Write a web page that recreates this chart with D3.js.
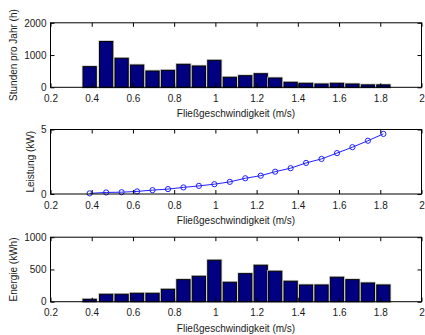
<!DOCTYPE html>
<html>
<head>
<meta charset="utf-8">
<script src="https://cdn.jsdelivr.net/npm/d3@7"></script>
<style>
  body { margin: 0; background: #fff; }
  svg { display: block; font-family: "Liberation Sans", Arial, sans-serif; }
  .tick text { font-size: 10px; fill: #1a1a1a; }
  .label { font-size: 10px; fill: #1a1a1a; }
</style>
</head>
<body>
<div id="chart"></div>
<script>
// bin centres (m/s)
const speeds = [0.39, 0.47, 0.545, 0.62, 0.695, 0.77, 0.845, 0.92, 0.995, 1.07,
  1.145, 1.22, 1.29, 1.365, 1.44, 1.515, 1.59, 1.665, 1.74, 1.815];
// hours per year in each bin
const hours = [640, 1420, 900, 690, 505, 525, 712, 660, 836, 310,
  360, 421, 288, 155, 124, 102, 124, 102, 75, 75];
// power (kW)
const power = [0.05, 0.12, 0.14, 0.2, 0.3, 0.38, 0.51, 0.63, 0.76, 0.94,
  1.22, 1.42, 1.73, 2.0, 2.41, 2.72, 3.17, 3.63, 4.13, 4.66];
// energy (kWh)
const energy = [37, 115, 115, 130, 130, 192, 342, 394, 643, 301,
  435, 565, 472, 317, 259, 259, 379, 342, 290, 259];

const xTicks = [0.2, 0.4, 0.6, 0.8, 1, 1.2, 1.4, 1.6, 1.8, 2];
const xLabel = "Fließgeschwindigkeit (m/s)";

const width = 425, height = 335;
const left = 50.5, right = 421.5;
const panelH = 64.5;

const panels = [
  { top: 22.8, type: "bar", values: hours, domain: [0, 2000], ticks: [0, 1000, 2000], ylabel: "Stunden pro Jahr (h)" },
  { top: 129.5, type: "line", values: power, domain: [0, 5], ticks: [0, 5], ylabel: "Leistung (kW)" },
  { top: 237.2, type: "bar", values: energy, domain: [0, 1000], ticks: [0, 500, 1000], ylabel: "Energie (kWh)" },
];

const svg = d3.select("#chart").append("svg")
  .attr("width", width)
  .attr("height", height);

const x = d3.scaleLinear().domain([0.2, 2]).range([left, right]);
const step = x(speeds[1]) - x(speeds[0]);
const barW = step * 0.8;

panels.forEach((p) => {
  const y = d3.scaleLinear().domain(p.domain).range([p.top + panelH, p.top]);
  const g = svg.append("g");

  if (p.type === "bar") {
    const bars = g.selectAll(".bar").data(speeds).join("g").attr("class", "bar");
    // soft grey halo like the original rendering
    bars.append("rect")
      .attr("x", (d) => x(d) - barW / 2)
      .attr("y", (d, i) => y(p.values[i]))
      .attr("width", barW)
      .attr("height", (d, i) => y(0) - y(p.values[i]))
      .attr("fill", "none")
      .attr("stroke", "#c8c8c8")
      .attr("stroke-width", 2.6);
    bars.append("rect")
      .attr("x", (d) => x(d) - barW / 2)
      .attr("y", (d, i) => y(p.values[i]))
      .attr("width", barW)
      .attr("height", (d, i) => y(0) - y(p.values[i]))
      .attr("fill", "#000080")
      .attr("stroke", "#000")
      .attr("stroke-width", 1);
  } else {
    const line = d3.line()
      .x((d) => x(d))
      .y((d, i) => y(p.values[i]));
    g.append("path")
      .datum(speeds)
      .attr("d", line)
      .attr("fill", "none")
      .attr("stroke", "#2020ff")
      .attr("stroke-width", 1);
    g.selectAll("circle").data(speeds).join("circle")
      .attr("cx", (d) => x(d))
      .attr("cy", (d, i) => y(p.values[i]))
      .attr("r", 2.6)
      .attr("fill", "none")
      .attr("stroke", "#2020ff")
      .attr("stroke-width", 1);
  }

  // axes, ticks pointing inward
  const bottom = g.append("g")
    .attr("transform", `translate(0,${y(0)})`)
    .call(d3.axisBottom(x).tickValues(xTicks).tickSizeInner(-4).tickSizeOuter(0)
      .tickPadding(7.5).tickFormat((d) => String(d)));
  g.append("g")
    .attr("transform", `translate(0,${p.top})`)
    .call(d3.axisTop(x).tickValues(xTicks).tickSizeInner(-4).tickSizeOuter(0).tickFormat(""));
  const leftAx = g.append("g")
    .attr("transform", `translate(${left},0)`)
    .call(d3.axisLeft(y).tickValues(p.ticks).tickSizeInner(-4).tickSizeOuter(0)
      .tickPadding(4).tickFormat((d) => String(d)));
  g.append("g")
    .attr("transform", `translate(${right},0)`)
    .call(d3.axisRight(y).tickValues(p.ticks).tickSizeInner(-4).tickSizeOuter(0).tickFormat(""));

  g.selectAll(".domain").remove();
  g.selectAll(".tick line").attr("stroke", "#000");
  g.selectAll(".tick text").attr("font-size", null).attr("font-family", null);

  g.append("rect")
    .attr("x", left)
    .attr("y", p.top)
    .attr("width", right - left)
    .attr("height", panelH)
    .attr("fill", "none")
    .attr("stroke", "#000")
    .attr("stroke-width", 1);

  // x label
  g.append("text")
    .attr("class", "label")
    .attr("x", (left + right) / 2)
    .attr("y", y(0) + 30)
    .attr("text-anchor", "middle")
    .text(xLabel);

  // y label sits next to the widest tick label
  let maxW = 0;
  leftAx.selectAll(".tick text").each(function () {
    maxW = Math.max(maxW, this.getComputedTextLength());
  });
  const lx = left - 4 - maxW - 7;
  g.append("text")
    .attr("class", "label")
    .attr("transform", `translate(${lx},${p.top + panelH / 2}) rotate(-90)`)
    .attr("text-anchor", "middle")
    .text(p.ylabel);
});
</script>
</body>
</html>
